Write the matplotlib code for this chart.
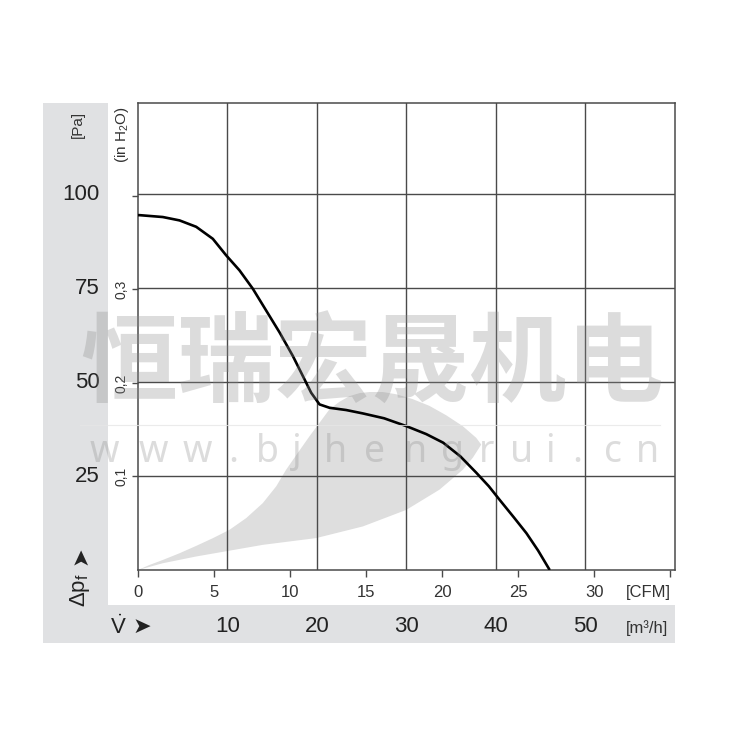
import numpy as np
import matplotlib
matplotlib.use('Agg')
import matplotlib.pyplot as plt
import matplotlib.transforms as mtransforms
from matplotlib.patches import Rectangle
from matplotlib.lines import Line2D

plt.rcParams['font.family'] = ['Liberation Sans', 'DejaVu Sans']
plt.rcParams['mathtext.fontset'] = 'custom'
plt.rcParams['mathtext.rm'] = 'Liberation Sans'
plt.rcParams['mathtext.it'] = 'Liberation Sans'

# fan curve, flow in m3/h, pressure in Pa
flow = [0, 0.17, 2.77, 4.64, 6.5, 8.36, 9.85, 11.34, 12.83, 14.32, 15.81, 17.3, 18.41, 19.35,
        20.28, 21.4, 23.26, 25.12, 27.5, 30.0, 32.2, 34.1, 36.0, 37.8, 39.2, 40.4, 42.0, 43.4,
        44.7, 46.0]
pressure = [94.5, 94.5, 94.0, 93.1, 91.4, 88.2, 83.8, 79.8, 74.9, 69.1, 63.3, 57.0, 51.7, 47.2,
            44.1, 43.2, 42.6, 41.7, 40.4, 38.3, 36.2, 33.9, 30.3, 25.9, 22.3, 18.7, 14.0, 9.8,
            5.2, 0.0]

# grey operating range (upper edge, then lower edge back to origin)
zone_upper_x = [0, 1.28, 2.77, 4.64, 6.5, 8.36, 10.22, 12.09, 13.95, 15.44, 16.56, 17.86, 19.16,
                20.28, 21.4, 22.51, 23.63, 24.75, 25.87, 27.35, 28.85, 30.7, 32.57, 34.44, 36.29,
                37.79, 38.35]
zone_upper_y = [0, 1.34, 2.67, 4.46, 6.42, 8.47, 10.7, 13.82, 17.83, 22.27, 26.74, 31.2, 35.6,
                39.2, 42.8, 44.8, 46.3, 47.1, 47.4, 47.4, 46.8, 45.5, 43.7, 41.2, 38.3, 35.2, 33.4]
zone_lower_x = [37.41, 36.29, 33.69, 29.97, 25.12, 19.91, 13.95, 6.5, 2.77, 0]
zone_lower_y = [29.9, 26.7, 21.4, 16.0, 11.6, 8.5, 6.7, 3.6, 1.8, 0]

pa_ticks = [25, 50, 75, 100]
m3h_ticks = [10, 20, 30, 40, 50]
cfm_ticks = [0, 5, 10, 15, 20, 25, 30, 35]
cfm_labels = ['0', '5', '10', '15', '20', '25', '30', '']
inh2o_ticks = [0.1, 0.2, 0.3, 0.4, 0.5]
inh2o_labels = ['0,1', '0,2', '0,3', '', '']

url_chars = list('www.bjhengrui.cn')
url_x = [104, 153, 197, 233, 267, 297, 335, 375, 415, 453, 487, 522, 550, 577, 613, 647]

W = 750.0


def fx(x):
    return x / W


def fy(y):
    return 1 - y / W


fig = plt.figure(figsize=(7.5, 7.5), dpi=100)
fig.patch.set_facecolor('white')

band = '#e0e1e3'
fig.patches.append(Rectangle((fx(43), fy(643)), 65 / W, 540 / W, transform=fig.transFigure,
                             facecolor=band, edgecolor='none', zorder=-5))
fig.patches.append(Rectangle((fx(43), fy(643)), 632 / W, 38 / W, transform=fig.transFigure,
                             facecolor=band, edgecolor='none', zorder=-5))

ax = fig.add_axes([fx(138), fy(570), (675 - 138) / W, (570 - 102.5) / W])
ax.set_xlim(0, 60)
ax.set_ylim(0, 124.5)

ax.fill(zone_upper_x + zone_lower_x, zone_upper_y + zone_lower_y,
        color='#dedede', lw=0, zorder=1)
ax.plot(flow, pressure, color='black', lw=1.9, zorder=4, solid_capstyle='butt')

ax.set_xticks(m3h_ticks)
ax.set_yticks(pa_ticks)
ax.tick_params(length=0, labelbottom=False, labelleft=False)
ax.grid(True, color='#4a4a4a', lw=1.0, zorder=2)
ax.set_axisbelow(False)
for s in ax.spines.values():
    s.set_color('#4a4a4a')
    s.set_linewidth(1.1)

# CFM scale under the axis
cfm = ax.secondary_xaxis('bottom', functions=(lambda v: v / 1.699, lambda v: v * 1.699))
cfm.set_xticks(cfm_ticks)
cfm.set_xticklabels(cfm_labels)
cfm.tick_params(direction='out', length=5, width=1.0, color='#4a4a4a', pad=6,
                labelsize=12, labelcolor='#333333')
cfm.spines['bottom'].set_visible(False)

# in H2O scale
inh = ax.secondary_yaxis('left', functions=(lambda v: v / 249.09, lambda v: v * 249.09))
inh.set_yticks(inh2o_ticks)
inh.set_yticklabels(inh2o_labels, rotation=90, va='center')
inh.tick_params(direction='out', length=4, width=1.0, color='#4a4a4a', pad=3,
                labelsize=10, labelcolor='#333333')
inh.spines['left'].set_visible(False)

# Pa labels in the grey band
ytrans = mtransforms.blended_transform_factory(fig.transFigure, ax.transData)
for v in pa_ticks:
    fig.text(fx(100), v, str(v), transform=ytrans, ha='right', va='center',
             fontsize=16, color='#222222')
fig.text(fx(78), fy(124), '[Pa]', rotation=90, ha='center', va='center', fontsize=11,
         color='#333333')
fig.text(fx(122), fy(135), '(in H$_2$O)', rotation=90, ha='center', va='center', fontsize=11,
         color='#333333')
fig.text(fx(80), fy(590), r'$\Delta$p$_\mathrm{f}$', rotation=90, ha='center', va='center',
         fontsize=16, color='#222222')
fig.text(fx(80), fy(556), '➤', rotation=90, ha='center', va='center', fontsize=16,
         family=['DejaVu Sans'], color='#222222')

# m3/h labels in the bottom band
xtrans = mtransforms.blended_transform_factory(ax.transData, fig.transFigure)
for v in m3h_ticks:
    fig.text(v, fy(627), str(v), transform=xtrans, ha='center', va='center',
             fontsize=16, color='#222222')
fig.text(fx(647), fy(628), '[m³/h]', ha='center', va='center', fontsize=12, color='#333333')
fig.text(fx(648), fy(592), '[CFM]', ha='center', va='center', fontsize=12, color='#333333')
fig.text(fx(118), fy(627), r'$\dot{\mathrm{V}}$', ha='center', va='center', fontsize=16,
         color='#222222')
fig.text(fx(142), fy(627), '➤', ha='center', va='center', fontsize=16,
         family=['DejaVu Sans'], color='#222222')

# watermark
fig.text(fx(372), fy(365), '恒瑞宏晟机电', ha='center', va='center', fontsize=70, fontweight='bold',
         family=['Noto Sans CJK SC', 'DejaVu Sans'], color='#8c8c8c', alpha=0.3, zorder=10)
for ch, x in zip(url_chars, url_x):
    fig.text(fx(x), fy(452), ch, ha='center', va='center', fontsize=27,
             family=['Noto Sans', 'DejaVu Sans'], color='#8c8c8c', alpha=0.3, zorder=10)
fig.lines.append(Line2D([fx(80), fx(660)], [fy(425), fy(425)], transform=fig.transFigure,
                        color='#e6e6e6', lw=0.8, alpha=0.8, zorder=10))

fig.savefig('out.png', dpi=100)
